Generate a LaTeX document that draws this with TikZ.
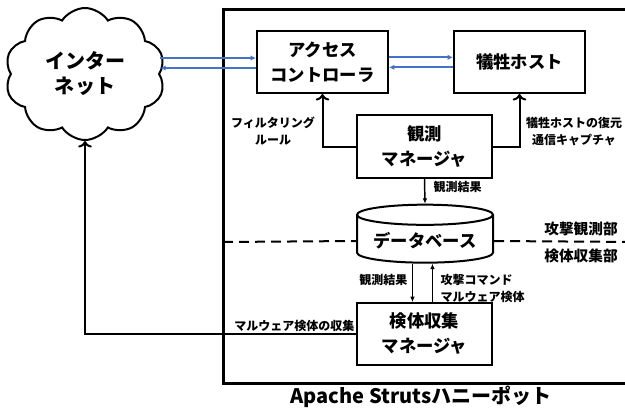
\documentclass[tikz,border=0pt]{standalone}
\usepackage{fontspec}
\setmainfont{Noto Sans CJK JP}
\usetikzlibrary{shapes.symbols}
\usetikzlibrary{shapes.geometric}
\usetikzlibrary{arrows.meta}
\definecolor{linkblue}{HTML}{4472C4}
\tikzset{
    box/.style={draw, line width=1.5pt, align=center, minimum width=98.25pt, minimum height=46.5pt, font=\fontsize{13}{18.75}\selectfont\bfseries},
    smalltext/.style={align=center, inner sep=1pt, font=\fontsize{9}{12.75}\selectfont\bfseries},
    bigflow/.style={->, line width=1.5pt},
    smallflow/.style={-{Latex[length=4pt,width=3.5pt]}, line width=1.1pt},
    blueflow/.style={-{Latex[length=4pt,width=4pt]}, line width=1.6pt, color=linkblue}
}

\begin{document}
\begin{tikzpicture}[x=0.75pt,y=-0.75pt]
    \useasboundingbox (0,0) rectangle (625,412);

    % honeypot frame
    \draw[line width=2.25pt] (640,9) -- (223,9) -- (223,383) -- (640,383);
    \node[font=\fontsize{15}{18}\selectfont\bfseries] (title) at (421,397) {Apache Strutsハニーポット};

    \draw (85,74) node [draw,shape=cloud,cloud puffs=10,cloud puff arc=115,aspect=1.2,line width=1.5pt,
        minimum width=120pt,minimum height=99pt,align=center,font=\fontsize{15}{18.75}\selectfont\bfseries] (net) {インター\\ネット} ;
    \draw (322.5,62) node [box] (ac) {アクセス\\コントローラ} ;
    \draw (519.5,62) node [box] (victim) {犠牲ホスト} ;
    \draw (424.5,146.5) node [box,minimum width=101.25pt,minimum height=47.25pt] (obs) {観測\\マネージャ} ;
    \draw (425,241) node [draw,shape=cylinder,shape border rotate=90,aspect=0.18,line width=1.5pt,
        minimum width=102pt,minimum height=43.5pt,font=\fontsize{13}{18.75}\selectfont\bfseries] (db) {データベース} ;
    \draw (424.5,334) node [box,minimum width=101.25pt] (scm) {検体収集\\マネージャ} ;

    % traffic
    \draw[blueflow] ([yshift=3pt]net.east |- ac.west) -- ([yshift=3pt]ac.west);
    \draw[blueflow] ([yshift=-4.5pt]ac.west) -- ([yshift=-4.5pt]net.east |- ac.west);
    \draw[blueflow] ([yshift=3.5pt]ac.east) -- ([yshift=3.5pt]victim.west);
    \draw[blueflow] ([yshift=-4pt]victim.west) -- ([yshift=-4pt]ac.east);

    % observation
    \draw[bigflow] (obs.west) -| (ac.south);
    \draw[bigflow] (obs.east) -| (victim.south);
    \draw[smallflow] (obs.south) -- (db.north);
    \node[smalltext] (filter) at (273,131) {フィルタリング\\ルール};
    \node[smalltext] (capture) at (574,131) {犠牲ホストの復元\\通信キャプチャ};
    \node[smalltext,anchor=west] (result1) at (432,187) {観測結果};

    % zone border
    \draw[line width=1.5pt,dash pattern=on 7.5pt off 4.5pt] (223,242) -- (db.west);
    \draw[line width=1.5pt,dash pattern=on 7.5pt off 4.5pt] (db.east) -- (640,242);
    \node[font=\fontsize{11}{13}\selectfont\bfseries] (zoneobs) at (581,229) {攻撃観測部};
    \node[font=\fontsize{11}{13}\selectfont\bfseries] (zonecol) at (581,256) {検体収集部};

    % collection
    \draw[smallflow] ([xshift=-9.4pt]db.south) -- ([xshift=-9.4pt]db.south |- scm.north);
    \draw[smallflow] ([xshift=5.6pt]db.south |- scm.north) -- ([xshift=5.6pt]db.south);
    \node[smalltext,anchor=east] (result2) at (409,280) {観測結果};
    \node[smalltext,anchor=west,align=left] (command) at (439,288) {攻撃コマンド\\マルウェア検体};
    \draw[bigflow] (scm.west) -| (net.south);
    \node[smalltext,anchor=east] (collect) at (356,326) {マルウェア検体の収集};
\end{tikzpicture}
\end{document}
